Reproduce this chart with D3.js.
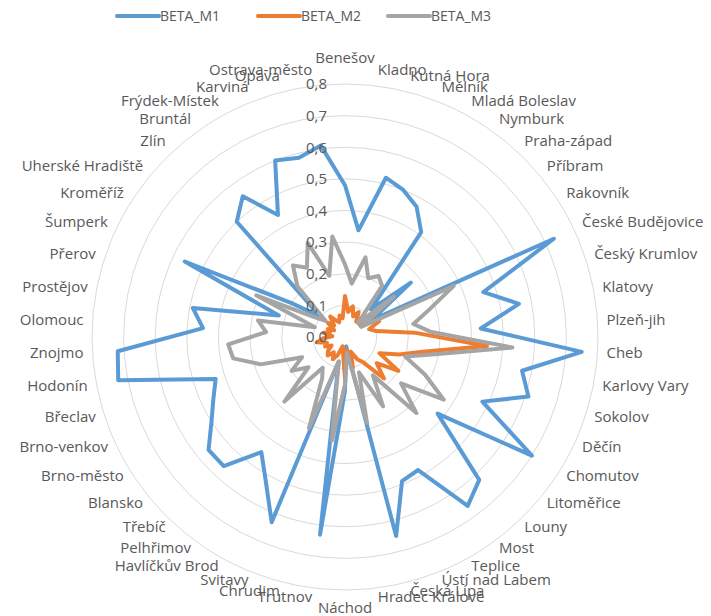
<!DOCTYPE html>
<html>
<head>
<meta charset="utf-8">
<script src="https://cdn.jsdelivr.net/npm/d3@7"></script>
<style>
  body { margin: 0; background: #fff; }
  svg text { font-family: "Open Sans", "Noto Sans", sans-serif; fill: #595959; }
</style>
</head>
<body>
<svg id="chart" width="711" height="616"></svg>
<script>
// districts, clockwise from the top
const districts = ["Benešov", "Kladno", "Kutná Hora", "Mělník", "Mladá Boleslav", "Nymburk", "Praha-západ",
  "Příbram", "Rakovník", "České Budějovice", "Český Krumlov", "Klatovy", "Plzeň-jih", "Cheb", "Karlovy Vary",
  "Sokolov", "Děčín", "Chomutov", "Litoměřice", "Louny", "Most", "Teplice", "Ústí nad Labem", "Česká Lípa",
  "Hradec Králové", "Náchod", "Trutnov", "Chrudim", "Svitavy", "Havlíčkův Brod", "Pelhřimov", "Třebíč",
  "Blansko", "Brno-město", "Brno-venkov", "Břeclav", "Hodonín", "Znojmo", "Olomouc", "Prostějov", "Přerov",
  "Šumperk", "Kroměříž", "Uherské Hradiště", "Zlín", "Bruntál", "Frýdek-Místek", "Karviná", "Opava",
  "Ostrava-město"];

const betaM1 = [0.48, 0.34, 0.52, 0.50, 0.47, 0.41, 0.12, 0.27, 0.10, 0.73,
  0.46, 0.56, 0.43, 0.75, 0.57, 0.61, 0.48, 0.70, 0.38, 0.62,
  0.66, 0.48, 0.49, 0.65, 0.03, 0.17, 0.63, 0.08, 0.63, 0.52,
  0.45, 0.56, 0.56, 0.50, 0.46, 0.43, 0.73, 0.72, 0.45, 0.49,
  0.22, 0.56, 0.20, 0.10, 0.50, 0.55, 0.44, 0.60, 0.585, 0.61];

const betaM2 = [0.13, 0.08, 0.10, 0.07, 0.09, 0.06, 0.08, 0.06, 0.09, 0.12,
  0.08, 0.10, 0.22, 0.45, 0.25, 0.18, 0.12, 0.20, 0.13, 0.18,
  0.10, 0.08, 0.05, 0.10, 0.04, 0.13, 0.05, 0.03, 0.06, 0.08,
  0.06, 0.08, 0.07, 0.05, 0.07, 0.06, 0.09, 0.07, 0.04, 0.07,
  0.05, 0.06, 0.04, 0.07, 0.05, 0.08, 0.06, 0.05, 0.07, 0.06];

const betaM3 = [0.23, 0.17, 0.26, 0.20, 0.22, 0.20, 0.06, 0.20, 0.06, 0.38,
  0.28, 0.22, 0.27, 0.53, 0.29, 0.20, 0.28, 0.37, 0.23, 0.33,
  0.15, 0.25, 0.12, 0.28, 0.05, 0.15, 0.33, 0.08, 0.31, 0.15,
  0.12, 0.28, 0.15, 0.20, 0.15, 0.28, 0.36, 0.37, 0.25, 0.28,
  0.10, 0.31, 0.12, 0.08, 0.22, 0.28, 0.25, 0.32, 0.20, 0.32];

const ticks = [0, 0.1, 0.2, 0.3, 0.4, 0.5, 0.6, 0.7, 0.8];

const series = [
  {name: "BETA_M1", values: betaM1, color: "#5b9bd5"},
  {name: "BETA_M2", values: betaM2, color: "#ed7d31"},
  {name: "BETA_M3", values: betaM3, color: "#a5a5a5"}
];

const svg = d3.select("#chart");
const cx = 345, cy = 337;

const r = d3.scaleLinear().domain([0, 0.8]).range([0, 253]);
const angle = d3.scalePoint().domain(districts).range([0, 2 * Math.PI * (1 - 1 / districts.length)]);

const g = svg.append("g").attr("transform", `translate(${cx},${cy})`);

// circular gridlines
g.selectAll("circle.grid")
  .data(ticks.slice(1))
  .enter()
  .append("circle")
  .attr("class", "grid")
  .attr("r", d => r(d))
  .attr("fill", "none")
  .attr("stroke", "#d9d9d9")
  .attr("stroke-width", 1);

// series lines
const line = d3.lineRadial()
  .angle((d, i) => angle(districts[i]))
  .radius(d => r(d))
  .curve(d3.curveLinearClosed);

g.selectAll("path.series")
  .data(series)
  .enter()
  .append("path")
  .attr("class", "series")
  .attr("d", d => line(d.values))
  .attr("fill", "none")
  .attr("stroke", d => d.color)
  .attr("stroke-width", 4)
  .attr("stroke-linejoin", "round");

// value labels along the vertical axis
g.selectAll("text.tick")
  .data(ticks)
  .enter()
  .append("text")
  .attr("class", "tick")
  .attr("x", -18)
  .attr("y", d => -r(d))
  .attr("dy", "0.35em")
  .attr("text-anchor", "end")
  .style("font-size", "15px")
  .text(d => d3.format(".1f")(d).replace(".", ","));

// category labels (Excel pulls the lower ones in a little)
const labelR = 262;
g.selectAll("text.cat")
  .data(districts)
  .enter()
  .append("text")
  .attr("class", "cat")
  .each(function(d) {
    const a = angle(d);
    const s = Math.sin(a), c = Math.cos(a);
    let y = -c * labelR + 5 - 7 * c;
    if (Math.abs(s) <= 0.1) y += c > 0 ? -10 : 2;
    else if (c < 0) y -= 4 * Math.abs(s) * Math.abs(c) + 6 * Math.abs(c);
    d3.select(this)
      .attr("x", s * labelR)
      .attr("y", y)
      .attr("text-anchor", s > 0.1 ? "start" : (s < -0.1 ? "end" : "middle"));
  })
  .style("font-size", "15px")
  .text(d => d);

// legend
const legendX = [117, 258, 388];
const legend = svg.selectAll("g.legend")
  .data(series)
  .enter()
  .append("g")
  .attr("class", "legend")
  .attr("transform", (d, i) => `translate(${legendX[i]},16)`);

legend.append("line")
  .attr("x1", 0).attr("x2", 42)
  .attr("stroke", d => d.color)
  .attr("stroke-width", 4)
  .attr("stroke-linecap", "round");

legend.append("text")
  .attr("x", 43)
  .attr("dy", "0.35em")
  .style("font-size", "14px")
  .text(d => d.name);
</script>
</body>
</html>
